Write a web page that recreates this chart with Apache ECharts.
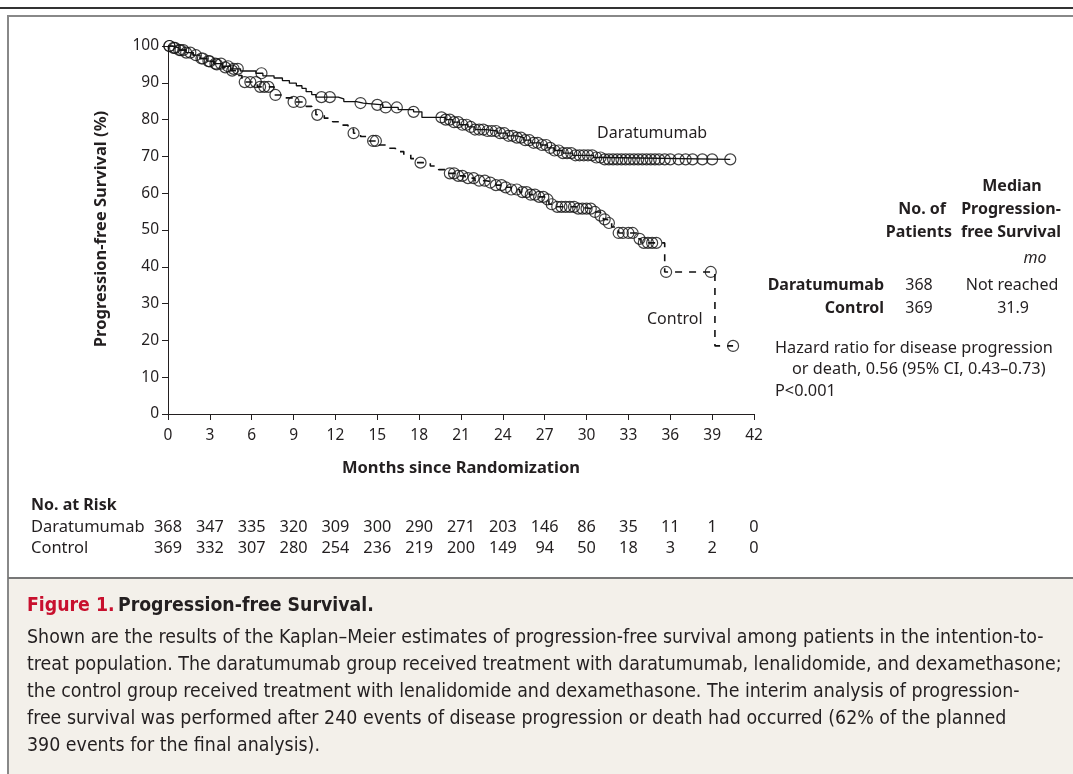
<!DOCTYPE html>
<html><head><meta charset="utf-8">
<script src="https://cdn.jsdelivr.net/npm/echarts@6/dist/echarts.min.js"></script>
<style>html,body{margin:0;padding:0;background:#fff}#c{width:1073px;height:774px}</style>
</head><body><div id="c"></div>
<script>
// ---- data ----
const xTicks = [0,3,6,9,12,15,18,21,24,27,30,33,36,39,42];
const yTicks = [0,10,20,30,40,50,60,70,80,90,100];
// Kaplan-Meier steps: [month, survival % after the event]
const daraSteps = [[0,100],[0.3,99.5],[0.8,98.9],[1.3,98.2],[1.8,97.5],[2.3,96.6],[2.8,95.9],[3.3,95.2],[3.9,94.5],[4.5,93.8],[5.2,93.2],[6.3,92.6],[6.8,91.9],[7.6,91.3],[8.2,90.6],[8.7,89.9],[9.2,89.2],[9.6,88.5],[9.9,87.6],[10.3,86.8],[10.6,86.1],[12.2,85.6],[12.6,84.9],[13.5,84.5],[14.0,84.0],[15.4,83.3],[16.5,82.7],[17.6,82.1],[18.2,80.6],[19.9,80.0],[20.4,79.3],[20.9,78.6],[21.5,78.0],[22.0,77.3],[22.8,76.9],[23.6,76.3],[24.3,75.6],[25.0,75.1],[25.5,74.4],[26.0,73.7],[26.7,73.1],[27.2,72.3],[27.7,71.6],[28.3,70.9],[29.0,70.3],[30.5,69.7],[31.3,69.2]];
const daraEnd = 40.3;
const daraCensor = [0.1,0.4,0.8,1.1,1.6,2.4,2.9,3.4,3.8,4.3,4.7,5.0,6.7,11.0,11.6,13.8,15.0,15.6,16.4,17.6,19.6,19.9,20.2,20.5,20.8,21.1,21.4,21.7,22.0,22.3,22.6,22.9,23.2,23.5,23.8,24.1,24.4,24.7,25.0,25.3,25.6,25.9,26.2,26.5,26.8,27.1,27.4,27.7,28.0,28.3,28.6,28.9,29.2,29.5,29.8,30.1,30.4,30.7,31.0,31.3,31.6,31.9,32.2,32.5,32.8,33.1,33.4,33.7,34.0,34.3,34.6,34.9,35.2,35.6,36.0,36.6,37.1,37.6,38.3,39.0,40.3];
const ctrlSteps = [[0,100],[0.3,99.5],[0.8,98.9],[1.3,98.2],[1.8,97.5],[2.3,96.6],[2.8,95.8],[3.3,95.0],[3.9,94.2],[4.5,93.3],[5.0,92.0],[5.3,90.2],[6.4,88.9],[7.6,86.7],[8.3,85.9],[9.0,84.8],[9.9,83.6],[10.3,82.5],[10.6,81.3],[11.2,80.4],[11.8,79.4],[12.4,78.5],[12.9,77.4],[13.3,76.3],[13.8,75.4],[14.4,74.2],[15.1,73.1],[15.7,72.2],[16.3,71.3],[16.9,70.4],[17.4,69.4],[17.8,68.3],[18.8,67.4],[19.4,66.4],[20.0,65.4],[20.6,64.7],[21.3,64.1],[22.0,63.4],[22.8,62.9],[23.5,62.2],[24.0,61.6],[24.6,61.0],[25.2,60.3],[25.9,59.6],[26.5,59.0],[27.0,58.3],[27.3,57.0],[27.6,56.3],[29.2,55.8],[30.5,54.9],[31.0,53.9],[31.2,52.9],[31.5,51.9],[31.8,50.8],[32.3,49.2],[33.6,47.6],[33.9,46.5],[35.6,38.6],[39.2,18.5]];
const ctrlEnd = 40.5;
const ctrlCensor = [0.1,0.5,0.9,1.3,2.0,2.5,3.0,3.5,4.1,4.6,5.5,5.9,6.3,6.6,6.9,7.2,7.7,9.0,9.5,10.7,13.3,14.7,14.9,18.1,20.2,20.5,20.8,21.1,21.5,21.9,22.3,22.7,23.1,23.5,23.9,24.2,24.6,25.0,25.4,25.7,26.0,26.3,26.6,26.9,27.2,27.5,27.9,28.2,28.5,28.8,29.1,29.4,29.7,30.0,30.3,30.6,31.0,31.3,31.6,32.3,32.6,33.0,33.3,33.8,34.1,34.4,34.7,35.0,35.7,38.9,40.5];
const riskDara = [368,347,335,320,309,300,290,271,203,146,86,35,11,1,0];
const riskCtrl = [369,332,307,280,254,236,219,200,149,94,50,18,3,2,0];
const captionLines = [
 "Shown are the results of the Kaplan\u2013Meier estimates of progression-free survival among patients in the intention-to-",
 "treat population. The daratumumab group received treatment with daratumumab, lenalidomide, and dexamethasone;",
 "the control group received treatment with lenalidomide and dexamethasone. The interim analysis of progression-",
 "free survival was performed after 240 events of disease progression or death had occurred (62% of the planned",
 "390 events for the final analysis)."
];

// ---- helpers ----
function stepLine(steps, end){ return steps.concat([[end, steps[steps.length-1][1]]]); }
function at(steps, t){ let v = steps[0][1]; for (const s of steps){ if (s[0] <= t) v = s[1]; } return v; }
function censorPts(steps, times){ return times.map(t => [t, at(steps, t)]); }

const F = '"Noto Sans", "Open Sans", sans-serif';
const CF = '"Liberation Sans Narrow", "DejaVu Sans Condensed", sans-serif';
const ink = '#231f20';

const chart = echarts.init(document.getElementById('c'), null, {renderer:'canvas'});
const circleStyle = {color:'rgba(0,0,0,0)', borderColor:'#111', borderWidth:1.2};
chart.setOption({
  animation:false,
  backgroundColor:'#fff',
  grid:{left:168, top:46, width:586, height:368},
  xAxis:{type:'value', min:0, max:42, interval:3,
    axisLine:{lineStyle:{color:ink, width:1}}, axisTick:{length:6, lineStyle:{color:ink}},
    splitLine:{show:false}, axisLabel:{color:ink, fontFamily:F, fontSize:15.5, margin:14}},
  yAxis:{type:'value', min:0, max:100, interval:10,
    axisLine:{show:true, lineStyle:{color:ink, width:1}}, axisTick:{show:true, length:6, lineStyle:{color:ink}},
    splitLine:{show:false}, axisLabel:{color:ink, fontFamily:F, fontSize:15.5, margin:9}},
  series:[
    {type:'line', step:'end', data:stepLine(daraSteps, daraEnd), symbol:'none', lineStyle:{color:'#111', width:1.3}},
    {type:'line', step:'end', data:stepLine(ctrlSteps, ctrlEnd), symbol:'none', lineStyle:{color:'#111', width:1.6, type:[7,7]}},
    {type:'scatter', data:censorPts(daraSteps, daraCensor), symbol:'circle', symbolSize:11, itemStyle:circleStyle},
    {type:'scatter', data:censorPts(ctrlSteps, ctrlCensor), symbol:'circle', symbolSize:11, itemStyle:circleStyle}
  ]
});

// ---- annotations / frame ----
const g = [];
const txt = (x,y,text,opt={}) => g.push({type:'text', x, y, silent:true, style:Object.assign({text, fill:ink, font:`${opt.weight||'normal'} ${opt.size||16}px ${opt.family||F}`, textAlign:opt.align||'left', textVerticalAlign:'middle'}, opt.style||{})});
// frame
g.push({type:'rect', shape:{x:8, y:578, width:1065, height:196}, style:{fill:'#f3f0ea'}, silent:true});
g.push({type:'line', shape:{x1:0,y1:8,x2:1073,y2:8}, style:{stroke:'#333', lineWidth:2}, silent:true});
g.push({type:'line', shape:{x1:8,y1:16,x2:1073,y2:16}, style:{stroke:'#888', lineWidth:2}, silent:true});
g.push({type:'line', shape:{x1:8,y1:15,x2:8,y2:774}, style:{stroke:'#888', lineWidth:2}, silent:true});
g.push({type:'line', shape:{x1:8,y1:578,x2:1073,y2:578}, style:{stroke:'#777', lineWidth:2}, silent:true});
// axis titles
g.push({type:'text', x:101, y:229, rotation:Math.PI/2, silent:true, style:{text:'Progression-free Survival (%)', fill:ink, font:`bold 16.5px ${F}`, textAlign:'center', textVerticalAlign:'middle'}});
txt(461, 468, 'Months since Randomization', {weight:'bold', size:16.5, align:'center'});
// curve labels
txt(597, 133, 'Daratumumab');
txt(647, 319, 'Control');
// right table
txt(1012, 186, 'Median', {weight:'bold', align:'center'});
txt(946, 209, 'No. of', {weight:'bold', align:'right'});
txt(952, 232, 'Patients', {weight:'bold', align:'right'});
txt(1011, 209, 'Progression-', {weight:'bold', align:'center'});
txt(1011, 232, 'free Survival', {weight:'bold', align:'center'});
txt(1035, 258, 'mo', {weight:'italic', align:'center'});
txt(884, 285, 'Daratumumab', {weight:'bold', align:'right'});
txt(884, 308, 'Control', {weight:'bold', align:'right'});
txt(919, 285, '368', {align:'center'});
txt(919, 308, '369', {align:'center'});
txt(1012, 285, 'Not reached', {align:'center'});
txt(1013, 308, '31.9', {align:'center'});
txt(775, 348, 'Hazard ratio for disease progression', {size:16.3});
txt(792, 369, 'or death, 0.56 (95% CI, 0.43\u20130.73)', {size:16.3});
txt(775, 391, 'P<0.001', {size:16.3});
// number at risk
txt(31, 505, 'No. at Risk', {weight:'bold'});
txt(31, 527, 'Daratumumab', {size:16.5});
txt(31, 548, 'Control', {size:16.5});
xTicks.forEach((m,i) => {
  const px = chart.convertToPixel({xAxisIndex:0}, m);
  txt(px, 527, String(riskDara[i]), {align:'center', size:16.3});
  txt(px, 548, String(riskCtrl[i]), {align:'center', size:16.3});
});
// caption
g.push({type:'text', x:27, y:606, silent:true, style:{text:'{r|Figure 1.} {b|Progression-free Survival.}', textVerticalAlign:'middle', rich:{r:{fill:'#c8102e', font:`bold 19.3px ${CF}`}, b:{fill:ink, font:`bold 19.3px ${CF}`}}}});
captionLines.forEach((l,i) => txt(27, 638 + i*27, l, {size:19.4, family:CF}));
chart.setOption({graphic:g});
</script></body></html>
